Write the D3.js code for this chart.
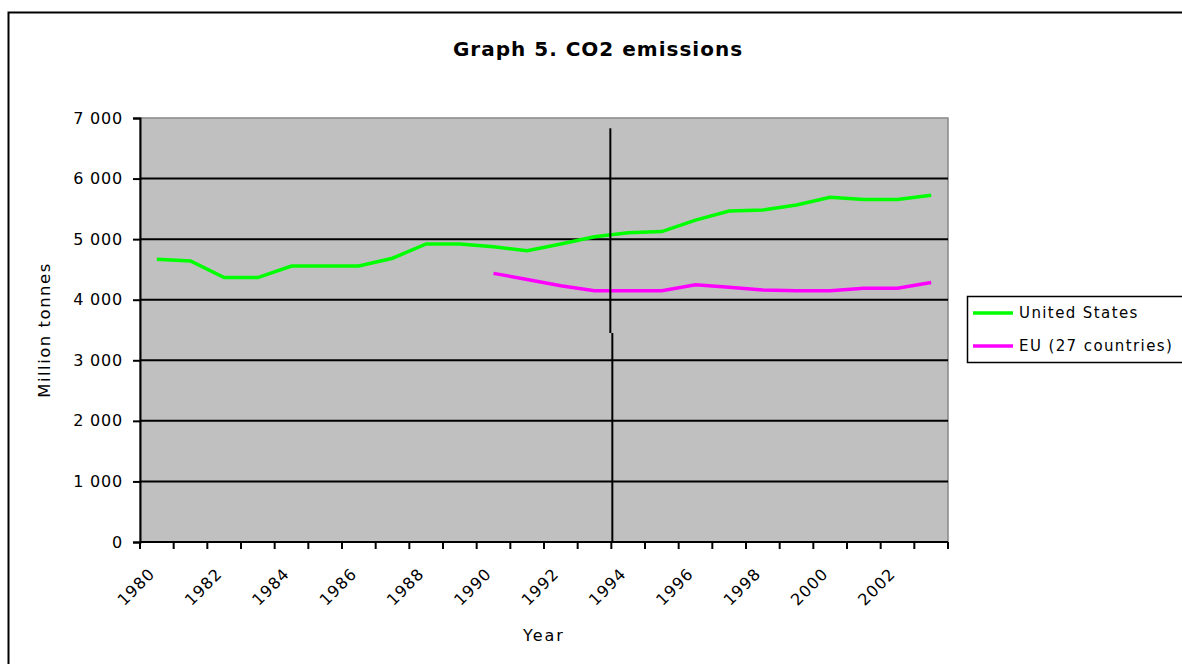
<!DOCTYPE html>
<html>
<head>
<meta charset="utf-8">
<script src="https://cdn.jsdelivr.net/npm/d3@7"></script>
<style>
  body { margin: 0; background: #fff; }
  text { font-family: "DejaVu Sans", Arial, sans-serif; fill: #000; }
</style>
</head>
<body>
<svg id="chart" width="1182" height="664"></svg>
<script>
// data
var years = ["1980","1981","1982","1983","1984","1985","1986","1987","1988","1989","1990","1991",
             "1992","1993","1994","1995","1996","1997","1998","1999","2000","2001","2002","2003"];
var usValues = [4670, 4640, 4365, 4365, 4557, 4557, 4557, 4685, 4920, 4920, 4875, 4810,
                4920, 5040, 5105, 5125, 5315, 5465, 5480, 5565, 5690, 5655, 5655, 5725];
var euValues = [null, null, null, null, null, null, null, null, null, null, 4435, 4335,
                4230, 4150, 4150, 4150, 4245, 4205, 4160, 4150, 4150, 4190, 4190, 4285];
var yTicks = [0, 1000, 2000, 3000, 4000, 5000, 6000, 7000];
var labelYears = years.filter(function (d, i) { return i % 2 === 0; });
var seriesNames = ["United States", "EU (27 countries)"];
var seriesColors = ["#00ff00", "#ff00ff"];
var markerYear = "1994", markerTop = 6830, markerBreak = 3450;

var svg = d3.select("#chart"),
    margin = {top: 118, right: 234, bottom: 122, left: 140},
    width = +svg.attr("width"),
    height = +svg.attr("height"),
    plotW = width - margin.left - margin.right,
    plotH = height - margin.top - margin.bottom;

// outer chart border (right and bottom fall outside the window)
svg.append("rect")
    .attr("x", 8.5).attr("y", 12.5)
    .attr("width", 1200).attr("height", 700)
    .attr("fill", "#fff")
    .attr("stroke", "#000").attr("stroke-width", 2);

var x = d3.scaleBand().domain(years).range([0, plotW]).paddingInner(0).paddingOuter(0);
var y = d3.scaleLinear().domain([0, 7000]).range([plotH, 0]);

var g = svg.append("g")
    .attr("transform", "translate(" + margin.left + "," + margin.top + ")");

g.append("rect")
    .attr("width", plotW).attr("height", plotH)
    .attr("fill", "#c0c0c0")
    .attr("stroke", "#888").attr("stroke-width", 1.5);

// gridlines
g.selectAll(".grid")
    .data(yTicks.filter(function (d) { return d > 0 && d < 7000; }))
    .enter().append("line")
    .attr("x1", 0).attr("x2", plotW)
    .attr("y1", function (d) { return y(d); })
    .attr("y2", function (d) { return y(d); })
    .attr("stroke", "#000").attr("stroke-width", 2);

// y axis
var yAxis = g.append("g")
    .call(d3.axisLeft(y).tickValues(yTicks).tickSize(7).tickPadding(10)
        .tickFormat(function (d) { return d3.format(",")(d).replace(/,/g, " "); }));
yAxis.select(".domain").attr("stroke", "#000").attr("stroke-width", 2);
yAxis.selectAll(".tick line").attr("stroke", "#000").attr("stroke-width", 2);
yAxis.selectAll("text").style("font-size", "16px").style("letter-spacing", "0.8px");

// x axis: ticks on category boundaries
var xAxis = g.append("g").attr("transform", "translate(0," + plotH + ")");
xAxis.append("line")
    .attr("x1", 0).attr("x2", plotW)
    .attr("stroke", "#000").attr("stroke-width", 2);
xAxis.selectAll(".xt")
    .data(years.concat(["end"]))
    .enter().append("line")
    .attr("x1", function (d, i) { return i * x.bandwidth(); })
    .attr("x2", function (d, i) { return i * x.bandwidth(); })
    .attr("y1", 0).attr("y2", 7)
    .attr("stroke", "#000").attr("stroke-width", 2);
xAxis.selectAll(".xl")
    .data(labelYears)
    .enter().append("text")
    .attr("transform", function (d) {
        return "translate(" + (x(d) + x.bandwidth() / 2 - 5) + ",29) rotate(-45)";
    })
    .attr("text-anchor", "end")
    .attr("dy", "0.35em")
    .style("font-size", "16px")
    .style("letter-spacing", "1px")
    .text(function (d) { return d; });

// series
var line = d3.line()
    .defined(function (d) { return d.v != null; })
    .x(function (d) { return x(d.year) + x.bandwidth() / 2; })
    .y(function (d) { return y(d.v); });

[usValues, euValues].forEach(function (vals, k) {
    var pts = years.map(function (yr, i) { return {year: yr, v: vals[i]}; });
    g.append("path")
        .datum(pts)
        .attr("d", line)
        .attr("fill", "none")
        .attr("stroke", seriesColors[k])
        .attr("stroke-width", 3.5);
});

// hand-drawn vertical marker at 1994
var mx = x(markerYear);
g.append("line")
    .attr("x1", mx - 1).attr("x2", mx - 1)
    .attr("y1", y(markerTop)).attr("y2", y(markerBreak))
    .attr("stroke", "#000").attr("stroke-width", 2);
g.append("line")
    .attr("x1", mx + 1).attr("x2", mx + 1)
    .attr("y1", y(markerBreak)).attr("y2", plotH)
    .attr("stroke", "#000").attr("stroke-width", 2);

// titles
svg.append("text")
    .attr("x", 598).attr("y", 56)
    .attr("text-anchor", "middle")
    .style("font-size", "20px").style("font-weight", "bold")
    .style("letter-spacing", "1px")
    .text("Graph 5. CO2 emissions");
svg.append("text")
    .attr("x", 544).attr("y", 641)
    .attr("text-anchor", "middle")
    .style("font-size", "16px")
    .style("letter-spacing", "2px")
    .text("Year");
svg.append("text")
    .attr("transform", "translate(50," + (margin.top + y(3500)) + ") rotate(-90)")
    .attr("text-anchor", "middle")
    .style("font-size", "16.5px")
    .style("letter-spacing", "1.5px")
    .text("Million tonnes");

// legend
var legend = svg.append("g").attr("transform", "translate(967,296)");
legend.append("rect")
    .attr("x", 0.5).attr("y", 0.5)
    .attr("width", 240).attr("height", 66)
    .attr("fill", "#fff")
    .attr("stroke", "#000").attr("stroke-width", 1.5);
seriesNames.forEach(function (name, k) {
    var ly = 17 + k * 33;
    legend.append("line")
        .attr("x1", 6).attr("x2", 46)
        .attr("y1", ly).attr("y2", ly)
        .attr("stroke", seriesColors[k]).attr("stroke-width", 3.5);
    legend.append("text")
        .attr("x", 52).attr("y", ly)
        .attr("dy", "0.35em")
        .style("font-size", "15px")
        .style("letter-spacing", "1.4px")
        .text(name);
});
</script>
</body>
</html>
